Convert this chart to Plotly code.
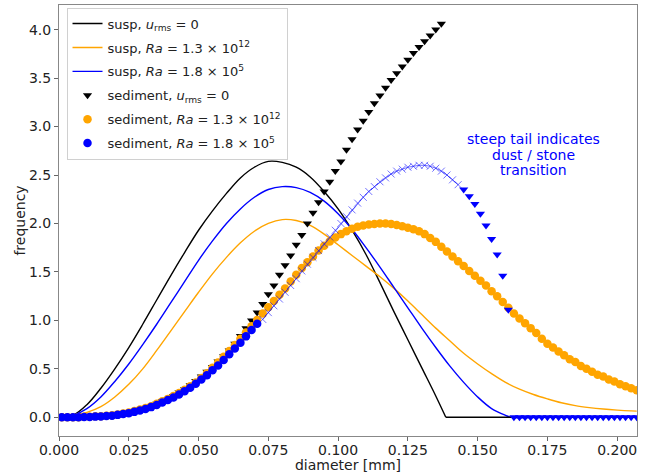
import numpy as np
import plotly.graph_objects as go

# ---------------- data ----------------
# suspended-particle size distributions (lines)
susp_u0_x = [0.000, 0.005, 0.010, 0.015, 0.020, 0.025, 0.030, 0.035, 0.040, 0.045,
             0.050, 0.055, 0.060, 0.065, 0.070, 0.075, 0.080, 0.085, 0.090, 0.095,
             0.100, 0.105, 0.110, 0.115, 0.120, 0.125, 0.130, 0.135, 0.1386]
susp_u0_y = [0.0, 0.02, 0.13, 0.30, 0.50, 0.72, 0.96, 1.21, 1.46, 1.70,
             1.93, 2.13, 2.31, 2.47, 2.58, 2.64, 2.63, 2.58, 2.48, 2.33,
             2.15, 1.93, 1.68, 1.39, 1.09, 0.80, 0.51, 0.22, 0.0]
susp_u0_tail_x = [0.1386, 0.150, 0.175, 0.207]
susp_u0_tail_y = [0.0, 0.0, 0.0, 0.0]

susp_ra12_x = [0.000, 0.005, 0.010, 0.015, 0.020, 0.025, 0.030, 0.035, 0.040, 0.045,
               0.050, 0.055, 0.060, 0.065, 0.070, 0.075, 0.080, 0.085, 0.090, 0.095,
               0.100, 0.105, 0.110, 0.115, 0.120, 0.125, 0.130, 0.135, 0.140, 0.145,
               0.150, 0.155, 0.160, 0.165, 0.170, 0.175, 0.180, 0.185, 0.190, 0.195,
               0.200, 0.205, 0.207]
susp_ra12_y = [0.0, 0.015, 0.05, 0.11, 0.21, 0.34, 0.50, 0.69, 0.89, 1.09,
               1.29, 1.48, 1.65, 1.80, 1.92, 2.00, 2.04, 2.03, 1.98, 1.89,
               1.78, 1.67, 1.56, 1.45, 1.33, 1.20, 1.06, 0.92, 0.79, 0.66,
               0.55, 0.45, 0.36, 0.29, 0.235, 0.19, 0.15, 0.12, 0.10, 0.085,
               0.074, 0.066, 0.064]

susp_ra5_x = [0.000, 0.005, 0.010, 0.015, 0.020, 0.025, 0.030, 0.035, 0.040, 0.045,
              0.050, 0.055, 0.060, 0.065, 0.070, 0.075, 0.080, 0.085, 0.090, 0.095,
              0.100, 0.105, 0.110, 0.115, 0.120, 0.125, 0.130, 0.135, 0.140, 0.145,
              0.150, 0.155, 0.160, 0.162, 0.175, 0.190, 0.207]
susp_ra5_y = [0.0, 0.02, 0.09, 0.21, 0.37, 0.55, 0.75, 0.96, 1.18, 1.40,
              1.62, 1.82, 2.00, 2.15, 2.27, 2.35, 2.38, 2.37, 2.32, 2.23,
              2.10, 1.94, 1.75, 1.55, 1.34, 1.13, 0.92, 0.72, 0.53, 0.36,
              0.21, 0.09, 0.02, 0.0, 0.0, 0.0, 0.0]

# sediment distributions (markers), sampled every 0.002 mm starting at 0.001 mm
sed_u0_y = [0, 0, 0, 0, 0.005, 0.005, 0.01, 0.01, 0.015, 0.02,
            0.03, 0.04, 0.05, 0.065, 0.08, 0.095, 0.115, 0.14, 0.165, 0.19,
            0.22, 0.255, 0.29, 0.33, 0.375, 0.42, 0.47, 0.52, 0.575, 0.63,
            0.69, 0.76, 0.84, 0.92, 1.00, 1.08, 1.17, 1.27, 1.36, 1.47,
            1.57, 1.67, 1.78, 1.88, 2.00, 2.11, 2.22, 2.33, 2.43, 2.54,
            2.64, 2.76, 2.87, 2.97, 3.06, 3.15, 3.24, 3.32, 3.40, 3.48,
            3.55, 3.62, 3.69, 3.76, 3.82, 3.88, 3.94, 4.00, 4.06]

sed_ra12_y = [0, 0, 0, 0, 0.005, 0.005, 0.01, 0.01, 0.015, 0.02,
              0.03, 0.04, 0.05, 0.065, 0.08, 0.095, 0.115, 0.14, 0.165, 0.19,
              0.22, 0.25, 0.285, 0.32, 0.36, 0.405, 0.455, 0.51, 0.565, 0.625,
              0.685, 0.745, 0.81, 0.875, 0.94, 1.005, 1.07, 1.135, 1.20, 1.265,
              1.33, 1.40, 1.47, 1.54, 1.60, 1.66, 1.72, 1.77, 1.815, 1.855,
              1.89, 1.92, 1.945, 1.965, 1.98, 1.99, 1.995, 2.0, 2.0, 1.995,
              1.985, 1.97, 1.955, 1.94, 1.92, 1.89, 1.85, 1.81, 1.76, 1.71,
              1.66, 1.61, 1.56, 1.51, 1.46, 1.41, 1.36, 1.30, 1.25, 1.19,
              1.13, 1.07, 1.02, 0.97, 0.92, 0.87, 0.81, 0.76, 0.72, 0.68,
              0.64, 0.60, 0.57, 0.53, 0.50, 0.47, 0.44, 0.42, 0.39, 0.37,
              0.34, 0.32, 0.30, 0.28]

# Ra = 1.8e5 sediment: circles (<= 0.071), crosses (0.073-0.143), triangles (>= 0.145)
sed_ra5_circ_y = [0, 0, 0, 0, 0.003, 0.004, 0.007, 0.009, 0.013, 0.017,
                  0.025, 0.033, 0.043, 0.056, 0.07, 0.085, 0.105, 0.128, 0.152, 0.178,
                  0.205, 0.235, 0.27, 0.305, 0.345, 0.39, 0.435, 0.485, 0.535, 0.59,
                  0.65, 0.71, 0.77, 0.835, 0.90, 0.965]
sed_ra5_cross_y = [1.01, 1.08, 1.15, 1.22, 1.29, 1.36, 1.43, 1.51, 1.58, 1.65,
                   1.72, 1.79, 1.86, 1.93, 2.00, 2.07, 2.14, 2.21, 2.27, 2.33,
                   2.38, 2.43, 2.47, 2.51, 2.54, 2.56, 2.58, 2.59, 2.60, 2.60,
                   2.59, 2.57, 2.54, 2.50, 2.45, 2.40]
sed_ra5_tri_y = [2.35, 2.28, 2.20, 2.10, 1.98, 1.84, 1.68, 1.46, 1.11,
                 0, 0, 0, 0, 0, 0, 0, 0, 0, 0, 0, 0, 0, 0, 0, 0, 0, 0, 0, 0, 0, 0, 0]

x_ticks = [0.000, 0.025, 0.050, 0.075, 0.100, 0.125, 0.150, 0.175, 0.200]
y_ticks = [0.0, 0.5, 1.0, 1.5, 2.0, 2.5, 3.0, 3.5, 4.0]
note_lines = ["steep tail indicates", "dust / stone", "transition"]
note_y = [2.876, 2.711, 2.549]

# diameter grid for sediment bins
grid = np.round(0.001 + 0.002 * np.arange(104), 3)
g_u0 = grid[:len(sed_u0_y)]
g_ra12 = grid[:len(sed_ra12_y)]
g_circ = grid[:len(sed_ra5_circ_y)]
g_cross = grid[len(sed_ra5_circ_y):len(sed_ra5_circ_y) + len(sed_ra5_cross_y)]
g_tri = grid[len(sed_ra5_circ_y) + len(sed_ra5_cross_y):]

FONT = "DejaVu Sans"
TXT = "#222222"
LW = 1.4
fig = go.Figure()

fig.add_trace(go.Scatter(x=susp_u0_x, y=susp_u0_y, mode="lines", line=dict(color="black", width=LW, shape="spline"),
                         name="susp, <i>u</i><sub>rms</sub> = 0", legendgroup="g1"))
fig.add_trace(go.Scatter(x=susp_ra12_x, y=susp_ra12_y, mode="lines", line=dict(color="orange", width=LW, shape="spline"),
                         name="susp, <i>Ra</i> = 1.3 × 10<sup>12</sup>", legendgroup="g2"))
fig.add_trace(go.Scatter(x=susp_ra5_x, y=susp_ra5_y, mode="lines", line=dict(color="blue", width=LW, shape="spline"),
                         name="susp, <i>Ra</i> = 1.8 × 10<sup>5</sup>", legendgroup="g3"))
fig.add_trace(go.Scatter(x=g_u0, y=sed_u0_y, mode="markers",
                         marker=dict(symbol="triangle-down", size=8, color="black"),
                         name="sediment, <i>u</i><sub>rms</sub> = 0", legendgroup="g4"))
fig.add_trace(go.Scatter(x=g_ra12, y=sed_ra12_y, mode="markers",
                         marker=dict(symbol="circle", size=8.5, color="orange"),
                         name="sediment, <i>Ra</i> = 1.3 × 10<sup>12</sup>", legendgroup="g5"))
fig.add_trace(go.Scatter(x=g_circ, y=sed_ra5_circ_y, mode="markers",
                         marker=dict(symbol="circle", size=8.5, color="blue"),
                         name="sediment, <i>Ra</i> = 1.8 × 10<sup>5</sup>", legendgroup="g6"))
fig.add_trace(go.Scatter(x=susp_u0_tail_x, y=susp_u0_tail_y, mode="lines", line=dict(color="black", width=LW),
                         showlegend=False, legendgroup="g7"))
fig.add_trace(go.Scatter(x=g_cross, y=sed_ra5_cross_y, mode="lines+markers",
                         line=dict(color="rgba(0,0,255,0.55)", width=1),
                         marker=dict(symbol="x-thin", size=7, line=dict(color="rgba(0,0,255,0.55)", width=1)),
                         showlegend=False, legendgroup="g8"))
fig.add_trace(go.Scatter(x=g_tri, y=sed_ra5_tri_y, mode="markers",
                         marker=dict(symbol="triangle-down", size=8, color="blue"),
                         showlegend=False, legendgroup="g9"))

for txt, yy in zip(note_lines, note_y):
    fig.add_annotation(x=0.1701, y=yy, text=txt, showarrow=False, xanchor="center", yanchor="middle",
                       font=dict(family=FONT, size=14, color="blue"))

axis_common = dict(showline=True, mirror=True, linecolor="#888888", linewidth=1, automargin=False,
                   ticks="outside", ticklen=4, tickcolor="#666666", showgrid=False, zeroline=False,
                   tickfont=dict(family=FONT, size=14, color=TXT))
fig.update_xaxes(range=[0, 0.2071], tickvals=x_ticks, ticktext=[f"{v:.3f}" for v in x_ticks],
                 ticklabelstandoff=-3,
                 title=dict(text="diameter [mm]", font=dict(family=FONT, size=14, color=TXT), standoff=2),
                 **axis_common)
fig.update_yaxes(range=[-0.193, 4.254], tickvals=y_ticks, ticktext=[f"{v:.1f}" for v in y_ticks],
                 title=dict(text="frequency", font=dict(family=FONT, size=14, color=TXT), standoff=0),
                 **axis_common)

fig.update_layout(
    width=656, height=473,
    margin=dict(l=59, r=19, t=5, b=37),
    plot_bgcolor="white", paper_bgcolor="white",
    font=dict(family=FONT, size=14, color=TXT),
    legend=dict(x=0.013, y=0.994, xanchor="left", yanchor="top", traceorder="grouped",
                bgcolor="rgba(255,255,255,0.85)", bordercolor="#d0d0d0", borderwidth=1,
                font=dict(family=FONT, size=13, color=TXT), itemwidth=30, tracegroupgap=4),
)

fig.write_html("out.html", config={"displayModeBar": False},
               post_script="document.body.style.margin='0';document.body.style.padding='0';")
